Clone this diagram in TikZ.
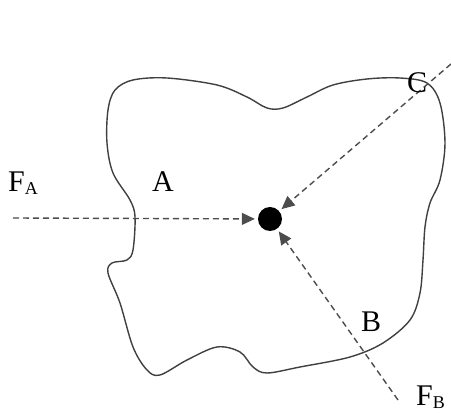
\documentclass[tikz,border=0pt]{standalone}
\usepackage{fontspec}
\setmainfont{Liberation Serif}
\usetikzlibrary{arrows.meta}
\tikzset{
  outline/.style={draw=black!75, line width=1.4pt},
  force/.style={draw=black!70, line width=1.4pt, dash pattern=on 6pt off 4pt,
    -{Triangle[length=13pt,width=12pt]}, shorten >=3pt},
  lbl/.style={anchor=base west, inner sep=0pt, font=\fontsize{30}{32}\selectfont},
  dotnode/.style={circle, fill=black, minimum size=24pt, inner sep=0pt}
}
\newcommand{\subA}[1]{\raisebox{-3pt}{\fontsize{18}{18}\selectfont #1}}
\begin{document}
\begin{tikzpicture}[x=1pt,y=-1pt]
\useasboundingbox (0,0) rectangle (451,414);
\draw[outline] plot[smooth cycle, tension=0.55] coordinates {
 (115,90) (133,80) (167,78) (217,85) (247,97) (267,108) (283,108) (307,97)
 (333,85) (367,79) (400,78) (427,83) (440,103) (445,143) (440,180) (430,203)
 (425,227) (423,260) (420,293) (410,320) (383,343) (350,357) (300,367)
 (267,373) (253,367) (240,352) (217,347) (187,360) (160,375) (147,370)
 (133,347) (120,303) (108,273) (112,263) (127,260) (133,250) (135,217)
 (130,200) (113,173) (107,143) (108,110)};
\node[dotnode] (dot) at (270,219) {};
\coordinate (fa) at (13,218);
\coordinate (fc) at (451,64);
\coordinate (fb) at (398,400);
\draw[force] (fa) -- (dot);
\draw[force] (fc) -- (dot);
\draw[force] (fb) -- (dot);
\node[lbl] (lfa) at (8,192) {F\subA{A}};
\node[lbl] (la) at (152,192) {A};
\node[lbl] (lc) at (407,93) {C};
\node[lbl] (lb) at (361,332) {B};
\node[lbl] (lfb) at (416,406) {F\subA{B}};
\end{tikzpicture}
\end{document}
